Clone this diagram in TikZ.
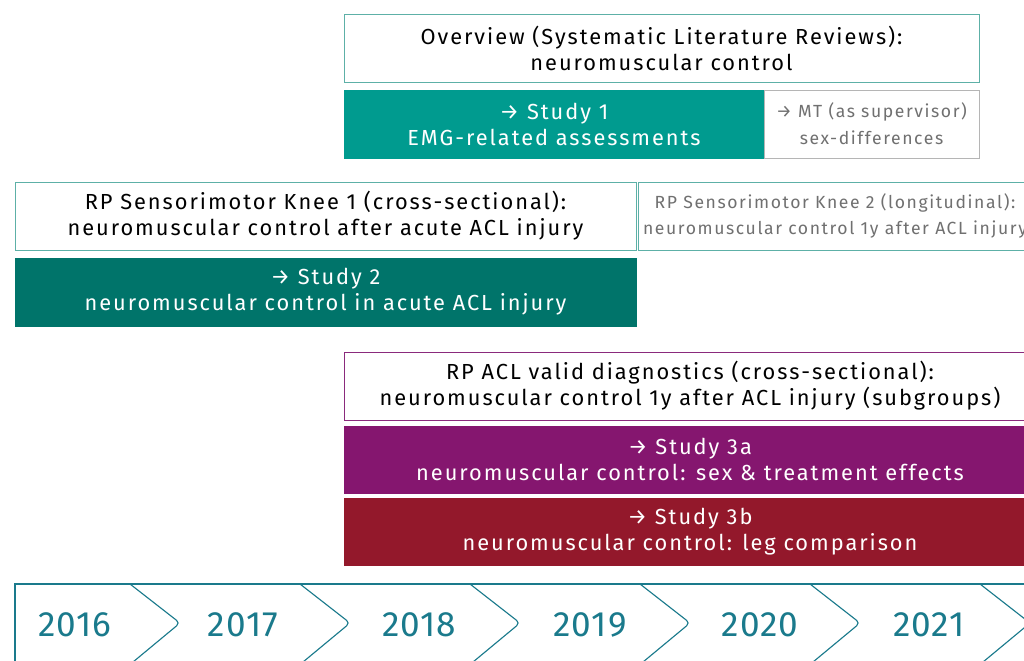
\documentclass[tikz,border=0pt]{standalone}
\usepackage{fontspec}
\setmainfont{Fira Sans}[LetterSpace=9]
\usetikzlibrary{positioning}
\definecolor{tealline}{HTML}{5DB0A7}
\definecolor{tealone}{HTML}{009B8F}
\definecolor{tealtwo}{HTML}{00746A}
\definecolor{purpleline}{HTML}{8A2A7C}
\definecolor{purplefill}{HTML}{85166F}
\definecolor{redfill}{HTML}{93182B}
\definecolor{greyline}{HTML}{B5B5B5}
\definecolor{greytext}{HTML}{707070}
\definecolor{yearblue}{HTML}{1A7A8C}
\tikzset{box/.style = {draw, rectangle, align=center, inner sep=0pt, minimum height=1.7cm,
                       font=\fontsize{15.5}{18.5}\selectfont},
         outline/.style = {box, fill=white, draw=tealline, text=black},
         study/.style = {box, text=white},
         faint/.style = {box, fill=white, text=greytext},
         year/.style = {text=yearblue, font=\fontsize{25}{25}\selectfont\addfontfeature{LetterSpace=3}}}

\begin{document}
\begin{tikzpicture}[x=0.025cm, y=-0.025cm]
    \clip(0,0)rectangle(1024,660);
    \fill[white](0,0)rectangle(1024,660);

    % reviews
    \node[outline, minimum width=15.875cm](overview)at(661.5,48){Overview (Systematic Literature Reviews):\\neuromuscular control};
    \node[study, fill=tealone, draw=tealone, minimum width=10.5cm](study1)at(554,124){→ Study 1\\EMG-related assessments};
    \node[faint, draw=greyline, minimum width=5.375cm, font=\fontsize{12.5}{19}\selectfont](mt)at(871.5,124){→ MT (as supervisor)\\sex-differences};

    % sensorimotor knee
    \node[outline, minimum width=15.525cm](knee1)at(325.5,216){RP Sensorimotor Knee 1 (cross-sectional):\\neuromuscular control after acute ACL injury};
    \node[faint, draw=tealline, minimum width=9.85cm, font=\fontsize{12.5}{19}\selectfont](knee2)at(835,216){RP Sensorimotor Knee 2 (longitudinal):\\neuromuscular control 1y after ACL injury};
    \node[study, fill=tealtwo, draw=tealtwo, minimum width=15.525cm](study2)at(325.5,292){→ Study 2\\neuromuscular control in acute ACL injury};

    % ACL diagnostics
    \node[outline, draw=purpleline, minimum width=17.3cm](acl)at(690,386){RP ACL valid diagnostics (cross-sectional):\\neuromuscular control 1y after ACL injury (subgroups)};
    \node[study, fill=purplefill, draw=purplefill, minimum width=17.3cm, minimum height=1.675cm](study3a)at(690,459.5){→ Study 3a\\neuromuscular control: sex \& treatment effects};
    \node[study, fill=redfill, draw=redfill, minimum width=17.3cm, minimum height=1.675cm](study3b)at(690,531.5){→ Study 3b\\neuromuscular control: leg comparison};

    % timeline
    \draw[yearblue, line width=0.8pt](15,670)--(15,584)--(1030,584);
    \foreach \i in {0,...,5}{
        \draw[yearblue, line width=0.8pt, rounded corners=3pt]
            (130+170*\i,584)--(180+170*\i,623)--(133+170*\i,662);
    }
    \node[year](y2016)at(75,625){2016};
    \node[year](y2017)at(243,625){2017};
    \node[year](y2018)at(419,625){2018};
    \node[year](y2019)at(590,625){2019};
    \node[year](y2020)at(760,625){2020};
    \node[year](y2021)at(929,625){2021};
\end{tikzpicture}
\end{document}
